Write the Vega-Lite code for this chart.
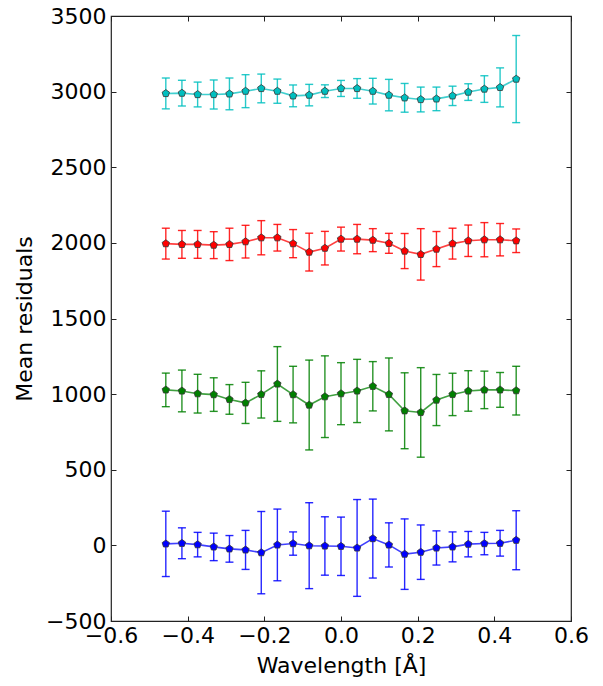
{
"$schema": "https://vega.github.io/schema/vega-lite/v6.json",
"width": 460, "height": 605,
"autosize": {"type": "none"},
"padding": {"left": 111, "top": 16, "right": 32, "bottom": 65},
"background": "white",
"config": {
  "view": {"stroke": "#222", "strokeWidth": 1.2},
  "axis": {"labelFont": "DejaVu Sans", "titleFont": "DejaVu Sans", "labelFontSize": 22, "titleFontSize": 22, "titleFontWeight": "normal", "labelColor": "black", "titleColor": "black", "grid": false, "domain": false, "tickColor": "#222", "tickSize": -5, "tickWidth": 1, "labelOverlap": false, "labelFlush": false, "labelBound": false}
},
"data": {"values": [
{"s":"b","x":-0.457,"y":10,"e":216},{"s":"b","x":-0.415,"y":14,"e":102},{"s":"b","x":-0.374,"y":5,"e":81},{"s":"b","x":-0.332,"y":-10,"e":91},{"s":"b","x":-0.291,"y":-23,"e":88},{"s":"b","x":-0.249,"y":-30,"e":129},{"s":"b","x":-0.208,"y":-48,"e":272},{"s":"b","x":-0.166,"y":3,"e":237},{"s":"b","x":-0.125,"y":12,"e":77},{"s":"b","x":-0.083,"y":-2,"e":284},{"s":"b","x":-0.042,"y":-4,"e":193},{"s":"b","x":0,"y":-6,"e":193},{"s":"b","x":0.042,"y":-17,"e":320},{"s":"b","x":0.083,"y":45,"e":261},{"s":"b","x":0.125,"y":3,"e":146},{"s":"b","x":0.166,"y":-58,"e":233},{"s":"b","x":0.208,"y":-45,"e":180},{"s":"b","x":0.249,"y":-17,"e":113},{"s":"b","x":0.291,"y":-10,"e":99},{"s":"b","x":0.332,"y":8,"e":84},{"s":"b","x":0.374,"y":12,"e":74},{"s":"b","x":0.415,"y":14,"e":85},{"s":"b","x":0.457,"y":34,"e":195},
{"s":"g","x":-0.457,"y":1028,"e":111},{"s":"g","x":-0.415,"y":1021,"e":138},{"s":"g","x":-0.374,"y":1003,"e":128},{"s":"g","x":-0.332,"y":997,"e":111},{"s":"g","x":-0.291,"y":965,"e":98},{"s":"g","x":-0.249,"y":942,"e":136},{"s":"g","x":-0.208,"y":998,"e":156},{"s":"g","x":-0.166,"y":1067,"e":247},{"s":"g","x":-0.125,"y":997,"e":187},{"s":"g","x":-0.083,"y":928,"e":297},{"s":"g","x":-0.042,"y":983,"e":270},{"s":"g","x":0,"y":1003,"e":205},{"s":"g","x":0.042,"y":1021,"e":209},{"s":"g","x":0.083,"y":1052,"e":163},{"s":"g","x":0.125,"y":998,"e":241},{"s":"g","x":0.166,"y":890,"e":251},{"s":"g","x":0.208,"y":879,"e":296},{"s":"g","x":0.249,"y":961,"e":169},{"s":"g","x":0.291,"y":998,"e":140},{"s":"g","x":0.332,"y":1021,"e":134},{"s":"g","x":0.374,"y":1028,"e":124},{"s":"g","x":0.415,"y":1028,"e":115},{"s":"g","x":0.457,"y":1023,"e":161},
{"s":"r","x":-0.457,"y":1995,"e":102},{"s":"r","x":-0.415,"y":1990,"e":92},{"s":"r","x":-0.374,"y":1990,"e":92},{"s":"r","x":-0.332,"y":1985,"e":89},{"s":"r","x":-0.291,"y":1990,"e":107},{"s":"r","x":-0.249,"y":2008,"e":108},{"s":"r","x":-0.208,"y":2034,"e":113},{"s":"r","x":-0.166,"y":2034,"e":88},{"s":"r","x":-0.125,"y":1995,"e":93},{"s":"r","x":-0.083,"y":1939,"e":125},{"s":"r","x":-0.042,"y":1965,"e":111},{"s":"r","x":0,"y":2025,"e":79},{"s":"r","x":0.042,"y":2025,"e":97},{"s":"r","x":0.083,"y":2018,"e":76},{"s":"r","x":0.125,"y":1997,"e":66},{"s":"r","x":0.166,"y":1946,"e":116},{"s":"r","x":0.208,"y":1924,"e":170},{"s":"r","x":0.249,"y":1959,"e":116},{"s":"r","x":0.291,"y":1995,"e":102},{"s":"r","x":0.332,"y":2014,"e":104},{"s":"r","x":0.374,"y":2021,"e":113},{"s":"r","x":0.415,"y":2021,"e":107},{"s":"r","x":0.457,"y":2014,"e":78},
{"s":"c","x":-0.457,"y":2988,"e":102},{"s":"c","x":-0.415,"y":2990,"e":85},{"s":"c","x":-0.374,"y":2981,"e":82},{"s":"c","x":-0.332,"y":2981,"e":96},{"s":"c","x":-0.291,"y":2985,"e":105},{"s":"c","x":-0.249,"y":3003,"e":109},{"s":"c","x":-0.208,"y":3021,"e":95},{"s":"c","x":-0.166,"y":3003,"e":80},{"s":"c","x":-0.125,"y":2972,"e":72},{"s":"c","x":-0.083,"y":2977,"e":71},{"s":"c","x":-0.042,"y":3003,"e":42},{"s":"c","x":0,"y":3021,"e":53},{"s":"c","x":0.042,"y":3021,"e":65},{"s":"c","x":0.083,"y":3003,"e":85},{"s":"c","x":0.125,"y":2977,"e":104},{"s":"c","x":0.166,"y":2959,"e":95},{"s":"c","x":0.208,"y":2948,"e":82},{"s":"c","x":0.249,"y":2952,"e":78},{"s":"c","x":0.291,"y":2972,"e":64},{"s":"c","x":0.332,"y":2997,"e":55},{"s":"c","x":0.374,"y":3017,"e":88},{"s":"c","x":0.415,"y":3028,"e":129},{"s":"c","x":0.457,"y":3083,"e":288}
]},
"layer": [
  {
    "encoding": {
      "x": {"field": "x", "type": "quantitative", "scale": {"domain": [-0.6, 0.6], "nice": false, "zero": false}, "axis": {"orient": "bottom", "values": [-0.6,-0.4,-0.2,0,0.2,0.4,0.6], "format": ".1f", "title": "Wavelength [Å]", "labelPadding": 9, "titlePadding": 9}},
      "y": {"field": "y", "type": "quantitative", "scale": {"domain": [-500, 3500], "nice": false, "zero": false}, "axis": {"orient": "left", "values": [-500,0,500,1000,1500,2000,2500,3000,3500], "format": "d", "title": "Mean residuals", "labelPadding": 10, "titlePadding": 9}},
      "color": {"field": "s", "type": "nominal", "scale": {"domain": ["b","g","r","c"], "range": ["#0000ff","#008000","#ff0000","#00bfbf"]}, "legend": null}
    },
    "layer": [
      {"mark": {"type": "errorbar", "ticks": {"size": 8}, "thickness": 1.4, "opacity": 0.85},
       "encoding": {"yError": {"field": "e"}}},
      {"mark": {"type": "line", "strokeWidth": 1.6, "opacity": 0.75},
       "encoding": {"detail": {"field": "s"}}},
      {"mark": {"type": "point", "filled": true, "opacity": 1, "stroke": "#333", "strokeWidth": 0.8, "size": 60, "shape": "M0,-1L0.951,-0.309L0.588,0.809L-0.588,0.809L-0.951,-0.309Z"},
       "encoding": {"fill": {"field": "s", "type": "nominal", "scale": {"domain": ["b","g","r","c"], "range": ["#0000ff","#008000","#ff0000","#00bfbf"]}, "legend": null}}}
    ]
  },
  {
    "mark": {"type": "point", "opacity": 0},
    "encoding": {
      "x": {"field": "x", "type": "quantitative", "axis": {"orient": "top", "values": [-0.6,-0.4,-0.2,0,0.2,0.4,0.6], "labels": false, "title": null}},
      "y": {"field": "y", "type": "quantitative", "axis": {"orient": "right", "values": [-500,0,500,1000,1500,2000,2500,3000,3500], "labels": false, "title": null}}
    }
  }
],
"resolve": {"axis": {"x": "independent", "y": "independent"}}
}
